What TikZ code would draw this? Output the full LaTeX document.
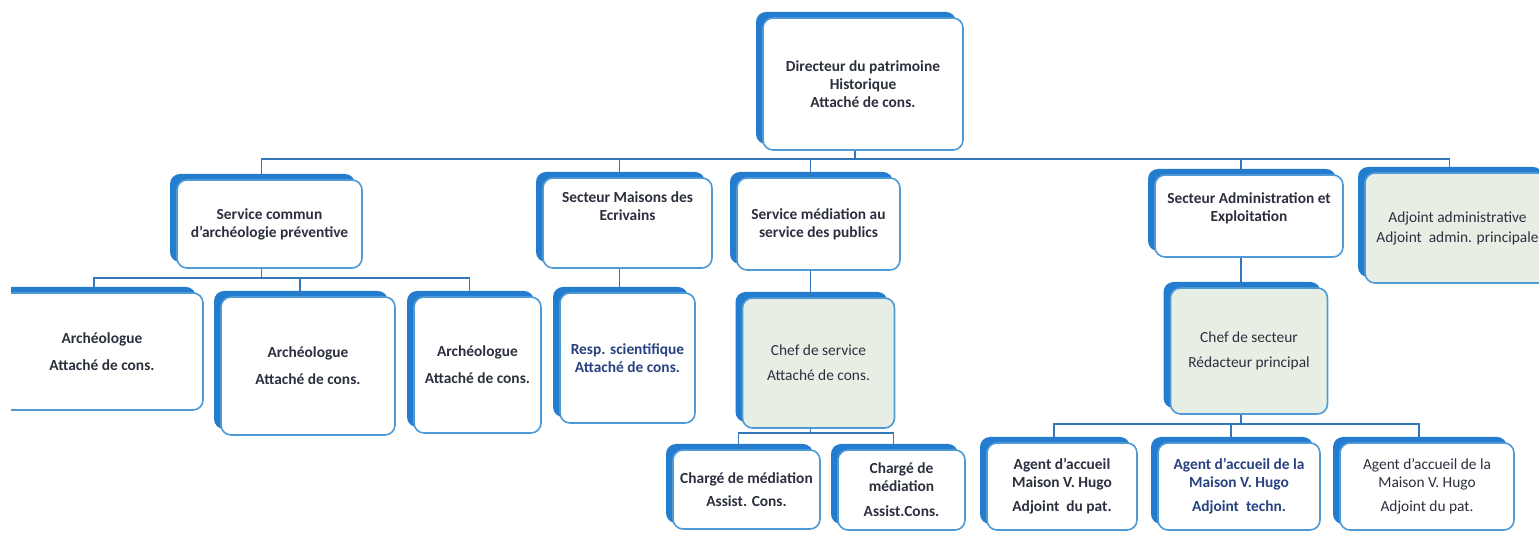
\documentclass[tikz,border=0pt]{standalone}
\usepackage{fontspec}
\setmainfont{Carlito}
\usepackage{tikz}
\usetikzlibrary{shadows}
\definecolor{shadowblue}{RGB}{36,124,206}
\definecolor{edgeblue}{RGB}{78,154,214}
\definecolor{linkblue}{RGB}{52,120,188}
\definecolor{boxgreen}{RGB}{231,239,229}
\definecolor{inkdark}{RGB}{44,48,62}
\definecolor{inkblue}{RGB}{40,66,128}
\tikzset{
    unit-box/.style = {draw=edgeblue, line width=0.8pt, fill=white, rounded corners=5pt, inner sep=2pt, align=center, text=inkdark, font=\fontsize{7.7}{9}\selectfont\bfseries, general shadow={fill=shadowblue, shadow xshift=-3.5pt, shadow yshift=3pt}},
    head-box/.style = {unit-box, fill=boxgreen, font=\fontsize{7.7}{9}\selectfont},
    link/.style = {draw=linkblue, line width=0.8pt},
}

\begin{document}
\begin{tikzpicture}[x=0.5pt, y=-0.5pt]
\useasboundingbox (0,0) rectangle (1539,533);
\begin{scope}
\clip (11,0) rectangle (1539,533);
\node[unit-box, minimum width=100pt, minimum height=66pt] (dir) at (863,84) {Directeur du patrimoine\\ Historique\\ Attaché de cons.};

\node[unit-box, minimum width=92.5pt, minimum height=44pt] (sca) at (269.5,224) {Service commun\\ d'archéologie préventive};
\node[unit-box, minimum width=84.5pt, minimum height=45pt] (smaisons) at (627.5,223) {Secteur Maisons des\\ Ecrivains\\[8pt]~};
\node[unit-box, minimum width=81.5pt, minimum height=46pt] (smed) at (818.5,224) {Service médiation au\\ service des publics};
\node[unit-box, minimum width=94pt, minimum height=41pt] (sadmin) at (1249,216) {Secteur Administration et\\ Exploitation\\~};
\node[head-box, minimum width=92.5pt, minimum height=55pt] (adj) at (1457.5,228) {Adjoint administrative\\[1pt] Adjoint\ \ admin. principale};

\node[unit-box, minimum width=101pt, minimum height=58.5pt] (arch1) at (102,351.5) {Archéologue\\[4.5pt] Attaché de cons.};
\node[unit-box, minimum width=87pt, minimum height=69pt] (arch2) at (308,366) {Archéologue\\[4.5pt] Attaché de cons.};
\node[unit-box, minimum width=63.5pt, minimum height=68pt] (arch3) at (477.5,365) {Archéologue\\[4.5pt] Attaché de cons.};
\node[unit-box, text=inkblue, minimum width=67.5pt, minimum height=65pt] (resp) at (627.5,358) {Resp. scientifique\\ Attaché de cons.};
\node[head-box, minimum width=76pt, minimum height=65pt] (chefserv) at (818.5,363) {Chef de service\\[3.5pt] Attaché de cons.};
\node[head-box, minimum width=78.5pt, minimum height=63pt] (chefsect) at (1249,351) {Chef de secteur\\[3.5pt] Rédacteur principal};

\node[unit-box, minimum width=73.5pt, minimum height=39.5pt] (charge1) at (746.5,489.5) {Chargé de médiation\\[2.5pt] Assist. Cons.};
\node[unit-box, minimum width=63.5pt, minimum height=40pt] (charge2) at (901.5,490) {Chargé de\\ médiation\\[3.5pt] Assist.Cons.};
\node[unit-box, minimum width=75pt, minimum height=43.5pt] (agent1) at (1062,486.5) {Agent d'accueil\\ Maison V. Hugo\\[3pt] Adjoint\ \ du pat.};
\node[unit-box, text=inkblue, minimum width=81pt, minimum height=43.5pt] (agent2) at (1239,486.5) {Agent d'accueil de la\\ Maison V. Hugo\\[3pt] Adjoint\ \ techn.};
\node[unit-box, font=\fontsize{7.7}{9}\selectfont, minimum width=87pt, minimum height=43.5pt] (agent3) at (1427,486.5) {Agent d'accueil de la\\ Maison V. Hugo\\[3pt] Adjoint du pat.};

\draw[link] ([xshift=-4pt]dir.south) -- ++(0,8) coordinate (bus1);
\draw[link] (bus1) -| ([xshift=-4pt]sca.north);
\draw[link] (bus1) -| ([xshift=-4pt]smaisons.north);
\draw[link] (bus1) -| ([xshift=-4pt]smed.north);
\draw[link] (bus1) -| ([xshift=-4pt]sadmin.north);
\draw[link] (bus1) -| ([xshift=-4pt]adj.north);

\draw[link] ([xshift=-4pt]sca.south) -- ++(0,9) coordinate (bus2);
\draw[link] (bus2) -| ([xshift=-4pt]arch1.north);
\draw[link] (bus2) -| ([xshift=-4pt]arch2.north);
\draw[link] (bus2) -| ([xshift=-4pt]arch3.north);

\draw[link] ([xshift=-4pt]smaisons.south) -- ([xshift=-4pt]resp.north);
\draw[link] ([xshift=-4pt]smed.south) -- ([xshift=-4pt]chefserv.north);

\draw[link] ([xshift=-4pt]chefserv.south) -- ++(0,4) coordinate (bus3);
\draw[link] (bus3) -| ([xshift=-4pt]charge1.north);
\draw[link] (bus3) -| ([xshift=-4pt]charge2.north);

\draw[link] ([xshift=-4pt]sadmin.south) -- ([xshift=-4pt]chefsect.north);
\draw[link] ([xshift=-4pt]chefsect.south) -- ++(0,9) coordinate (bus4);
\draw[link] (bus4) -| ([xshift=-4pt]agent1.north);
\draw[link] (bus4) -| ([xshift=-4pt]agent2.north);
\draw[link] (bus4) -| ([xshift=-4pt]agent3.north);
\end{scope}
\end{tikzpicture}
\end{document}
